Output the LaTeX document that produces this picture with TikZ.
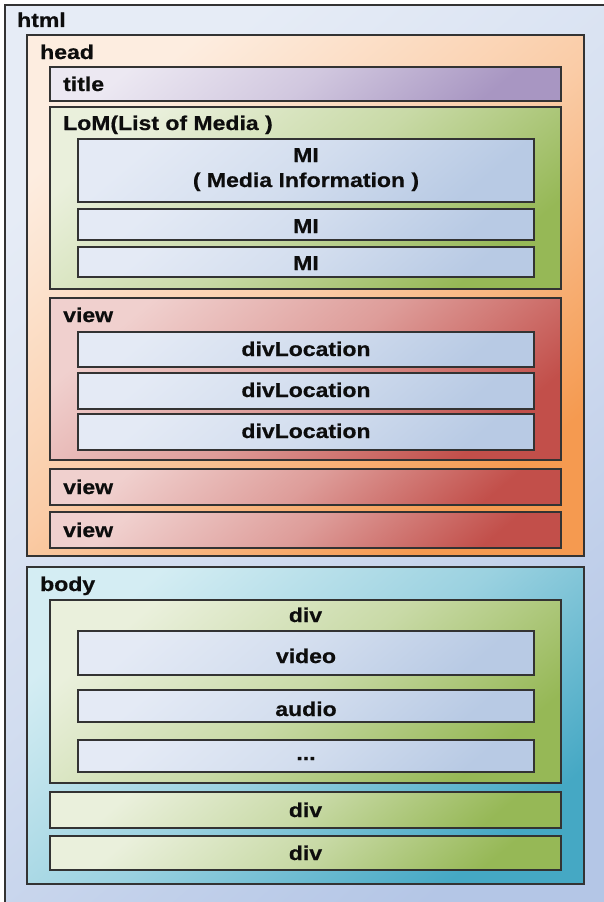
\documentclass[tikz,border=0pt]{standalone}
\usepackage{fontspec}
\setmainfont{Liberation Sans}[FakeStretch=1.15, BoldFeatures={FakeBold=0.6}]
\begin{document}
\begin{tikzpicture}[x=1pt,y=-1pt,
  box/.style 2 args={draw=black!80, line width=1.2pt, inner sep=0pt, outer sep=0pt,
    anchor=north west, top color=#1, bottom color=#2, middle color=#2!40!#1, shading angle=40},
  lbl/.style={font=\fontsize{20}{24}\selectfont\bfseries, text=black!95, inner sep=0pt},
  lw/.style={lbl, anchor=base west},
  lc/.style={lbl, anchor=base}]
\definecolor{lHtml}{HTML}{E6ECF6}\definecolor{cHtml}{HTML}{B4C6E6}
\definecolor{lHead}{HTML}{FDEDE0}\definecolor{cHead}{HTML}{F59A50}
\definecolor{lTitle}{HTML}{ECE8F2}\definecolor{cTitle}{HTML}{A896C2}
\definecolor{lGreen}{HTML}{EAF0DC}\definecolor{cGreen}{HTML}{96B856}
\definecolor{lMI}{HTML}{E4EAF5}\definecolor{cMI}{HTML}{B8CAE4}
\definecolor{lView}{HTML}{F0D0CE}\definecolor{cView}{HTML}{C24F4A}
\definecolor{lBody}{HTML}{D4EDF3}\definecolor{cBody}{HTML}{45A8C4}
\useasboundingbox (0,0) rectangle (603,902);
% box helper: name, x1, y1, x2, y2, colour family
\newcommand\mkbox[6]{\node[box={l#6}{c#6}, minimum width={(#4-#2)*1pt}, minimum height={(#5-#3)*1pt}] (#1) at (#2,#3) {};}
% outer document
\mkbox{html}{5}{5}{640}{940}{Html}
\node[lw] at ([shift={(12,22)}]html.north west) {html};
% head
\mkbox{head}{27}{35}{584}{556}{Head}
\node[lw] at ([shift={(13,24)}]head.north west) {head};
\mkbox{title}{50}{67}{561}{101}{Title}
\node[lw] at ([shift={(13,24)}]title.north west) {title};
\mkbox{lom}{50}{107}{561}{289}{Green}
\node[lw] at ([shift={(13,23)}]lom.north west) {LoM(List of Media )};
\mkbox{mia}{78}{139}{534}{202}{MI}
\node[lc] at ([yshift=-23pt]mia.north) {MI};
\node[lc] at ([yshift=-48pt]mia.north) {( Media Information )};
\mkbox{mib}{78}{209}{534}{240}{MI}
\node[lc] at ([yshift=-24pt]mib.north) {MI};
\mkbox{mic}{78}{247}{534}{277}{MI}
\node[lc] at ([yshift=-23pt]mic.north) {MI};
% views
\mkbox{viewa}{50}{298}{561}{460}{View}
\node[lw] at ([shift={(13,24)}]viewa.north west) {view};
\mkbox{loca}{78}{332}{534}{367}{MI}
\node[lc] at ([yshift=-24pt]loca.north) {divLocation};
\mkbox{locb}{78}{373}{534}{409}{MI}
\node[lc] at ([yshift=-24pt]locb.north) {divLocation};
\mkbox{locc}{78}{414}{534}{450}{MI}
\node[lc] at ([yshift=-24pt]locc.north) {divLocation};
\mkbox{viewb}{50}{469}{561}{505}{View}
\node[lw] at ([shift={(13,25)}]viewb.north west) {view};
\mkbox{viewc}{50}{512}{561}{548}{View}
\node[lw] at ([shift={(13,25)}]viewc.north west) {view};
% body
\mkbox{body}{27}{567}{584}{884}{Body}
\node[lw] at ([shift={(13,24)}]body.north west) {body};
\mkbox{diva}{50}{600}{561}{783}{Green}
\node[lc] at ([yshift=-22pt]diva.north) {div};
\mkbox{video}{78}{631}{534}{675}{MI}
\node[lc] at ([yshift=-32pt]video.north) {video};
\mkbox{audio}{78}{690}{534}{722}{MI}
\node[lc] at ([yshift=-26pt]audio.north) {audio};
\mkbox{more}{78}{740}{534}{772}{MI}
\node[lc] at ([yshift=-20pt]more.north) {...};
\mkbox{divb}{50}{792}{561}{828}{Green}
\node[lc] at ([yshift=-25pt]divb.north) {div};
\mkbox{divc}{50}{836}{561}{870}{Green}
\node[lc] at ([yshift=-24pt]divc.north) {div};
\end{tikzpicture}
\end{document}
